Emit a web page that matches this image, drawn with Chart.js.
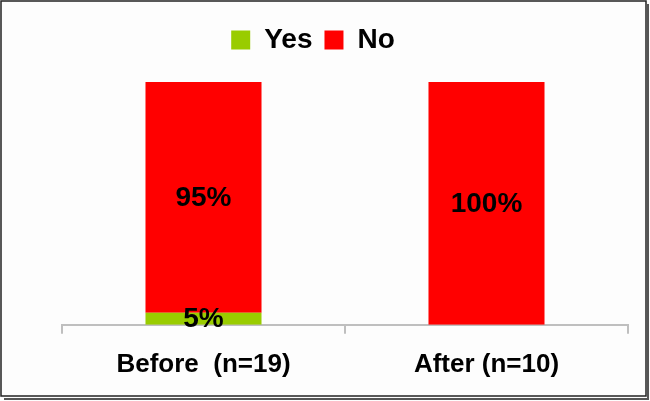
<!DOCTYPE html>
<html>
<head>
    <title>Before / After</title>
    <script src="https://cdn.jsdelivr.net/npm/chart.js"></script>
    <style>
        body { margin: 0; background: #fff; }
    </style>
</head>
<body>
    <canvas id="myChart" width="650" height="401"></canvas>

    <script>
        var categories = ['Before  (n=19)', 'After (n=10)'];
        var yesValues = [5, 0];
        var noValues = [95, 100];

        var font = '"Liberation Sans", Arial, sans-serif';

        // frame + white background
        var framePlugin = {
            id: 'frame',
            beforeDraw: function(chart) {
                var ctx = chart.ctx;
                ctx.save();
                ctx.fillStyle = '#fdfdfd';
                ctx.fillRect(0, 0, chart.width, chart.height);
                ctx.restore();
            },
            afterDraw: function(chart) {
                var ctx = chart.ctx;
                ctx.save();
                ctx.strokeStyle = '#222';
                ctx.lineWidth = 1.5;
                ctx.strokeRect(1, 1, 645, 395);
                ctx.strokeStyle = '#555';
                ctx.lineWidth = 2;
                ctx.beginPath();
                ctx.moveTo(648, 4); ctx.lineTo(648, 399); ctx.lineTo(4, 399);
                ctx.stroke();
                ctx.restore();
            }
        };

        // extra gap under the legend, and nudge it left like the original
        var legendGap = {
            id: 'legendGap',
            beforeInit: function(chart) {
                var origFit = chart.legend.fit;
                chart.legend.fit = function() {
                    origFit.bind(chart.legend)();
                    this.height += 18;
                };
            },
            afterLayout: function(chart) {
                chart.legend.left -= 32;
                chart.legend.right -= 32;
            }
        };

        // percent labels in the middle of each segment
        var labelPlugin = {
            id: 'segLabels',
            afterDatasetsDraw: function(chart) {
                var ctx = chart.ctx;
                ctx.save();
                ctx.font = 'bold 28px ' + font;
                ctx.fillStyle = '#000';
                ctx.textAlign = 'center';
                ctx.textBaseline = 'middle';
                chart.data.datasets.forEach(function(ds, i) {
                    chart.getDatasetMeta(i).data.forEach(function(bar, j) {
                        var v = ds.data[j];
                        if (!v) return;
                        var mid = (bar.y + bar.base) / 2;
                        ctx.fillText(v + '%', bar.x, mid + 1);
                    });
                });
                ctx.restore();
            }
        };

        new Chart(document.getElementById('myChart'), {
            type: 'bar',
            data: {
                labels: categories,
                datasets: [{
                    label: 'Yes',
                    data: yesValues,
                    backgroundColor: '#99cc00',
                    categoryPercentage: 0.82,
                    barPercentage: 0.5
                }, {
                    label: 'No',
                    data: noValues,
                    backgroundColor: '#ff0000',
                    categoryPercentage: 0.82,
                    barPercentage: 0.5
                }]
            },
            options: {
                responsive: false,
                animation: false,
                layout: { padding: { left: 62, right: 22, top: 14, bottom: 6 } },
                scales: {
                    x: {
                        stacked: true,
                        grid: { drawOnChartArea: false, drawTicks: true, tickLength: 9, color: '#bfbfbf', lineWidth: 2 },
                        border: { color: '#bfbfbf', width: 2 },
                        ticks: { color: '#000', padding: 15, font: { family: font, size: 26, weight: 'bold' } }
                    },
                    y: {
                        stacked: true,
                        display: false,
                        min: 0,
                        max: 100
                    }
                },
                plugins: {
                    legend: {
                        position: 'top',
                        labels: {
                            color: '#000',
                            boxWidth: 19,
                            boxHeight: 19,
                            padding: 12,
                            font: { family: font, size: 28, weight: 'bold' }
                        }
                    },
                    tooltip: { enabled: false }
                }
            },
            plugins: [framePlugin, legendGap, labelPlugin]
        });
    </script>
</body>
</html>
